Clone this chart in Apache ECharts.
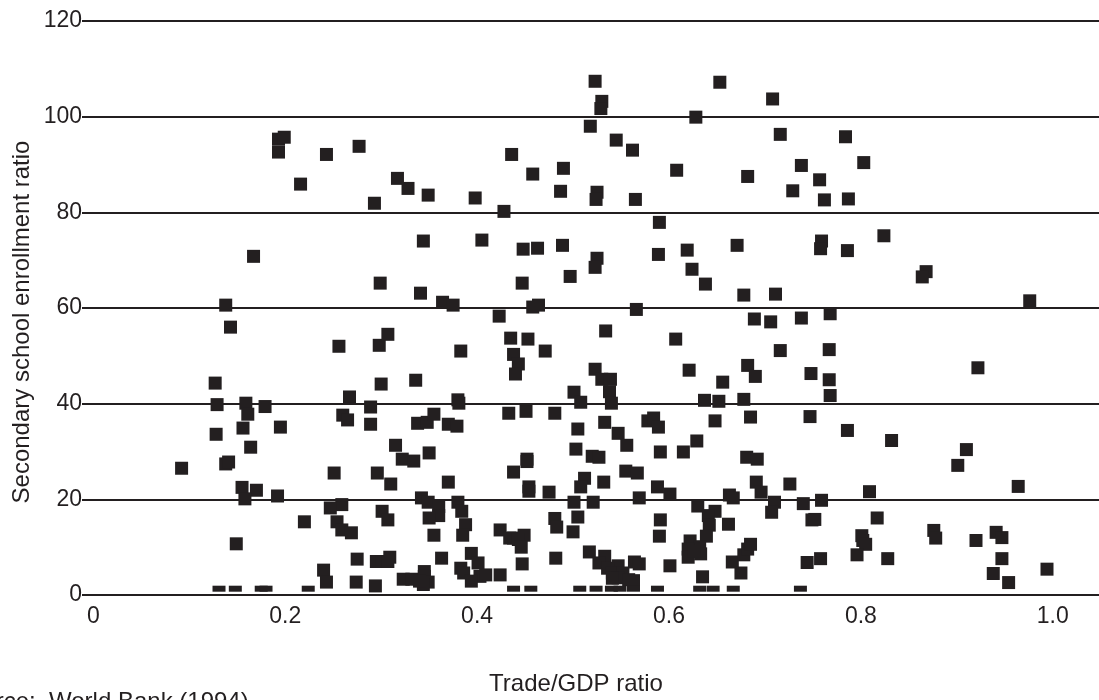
<!DOCTYPE html>
<html>
<head>
<meta charset="utf-8">
<style>html,body{margin:0;padding:0;background:#fff;overflow:hidden}#c{width:1099px;height:700px}</style>
<script src="https://cdn.jsdelivr.net/npm/echarts@6/dist/echarts.min.js"></script>
</head>
<body>
<div id="c"></div>
<script>
const xTicks = [0, 0.2, 0.4, 0.6, 0.8, 1.0];
const xTitle = 'Trade/GDP ratio';
const yTitle = 'Secondary school enrollment ratio';
const sourceNote = 'Source:  World Bank (1994)';

// [Trade/GDP ratio, enrollment ratio]
const lowTrade = [[.193,95.3],[.199,95.7],[.193,92.6],[.243,92.1],[.277,93.8],[.216,85.9],[.293,81.9],[.317,87.1],[.328,85.0],[.167,70.8],[.299,65.2],[.138,60.6],[.143,56.0],[.256,52.0],[.298,52.2],[.307,54.5],[.127,44.3],[.300,44.1],[.129,39.8],[.159,40.1],[.179,39.4],[.161,37.8],[.267,41.4],[.289,39.3],[.260,37.6],[.265,36.6],[.289,35.7],[.156,34.9],[.195,35.1],[.128,33.6],[.164,30.9],[.315,31.3],[.322,28.4],[.092,26.5],[.138,27.4],[.141,27.8],[.251,25.5],[.296,25.5],[.310,23.2],[.155,22.5],[.170,21.9],[.192,20.7],[.158,20.1],[.259,18.9],[.247,18.2],[.301,17.5],[.307,15.7],[.220,15.3],[.254,15.3],[.259,13.6],[.269,13.0],[.149,10.7],[.275,7.5],[.295,7.0],[.301,7.0],[.309,7.9],[.307,7.0],[.240,5.2],[.243,2.7],[.274,2.7],[.294,1.9],[.323,3.3],[.332,3.3],[.344,74.0],[.341,63.1],[.336,44.9],[.338,35.9],[.348,36.1],[.334,28.0],[.342,20.3],[.349,19.4],[.345,4.9],[.345,3.9],[.349,2.7],[.344,2.2],[.340,2.9],[.349,83.6]];
const midTrade = [[.398,83.0],[.428,80.2],[.405,74.2],[.364,61.2],[.375,60.6],[.423,58.3],[.383,51.0],[.380,40.8],[.381,40.1],[.433,38.0],[.355,37.8],[.370,35.7],[.379,35.3],[.350,29.7],[.370,23.6],[.360,18.5],[.360,16.6],[.350,16.1],[.380,19.4],[.384,17.5],[.388,14.7],[.385,12.5],[.355,12.5],[.424,13.6],[.434,11.9],[.363,7.7],[.394,8.7],[.401,6.7],[.383,5.6],[.386,4.6],[.403,3.9],[.409,4.2],[.394,2.9],[.424,4.2],[.523,107.4],[.530,103.2],[.529,101.7],[.518,98.0],[.545,95.1],[.562,93.0],[.436,92.1],[.458,88.0],[.490,89.2],[.487,84.4],[.525,84.2],[.524,82.7],[.565,82.7],[.448,72.3],[.463,72.5],[.489,73.1],[.589,71.2],[.525,70.4],[.523,68.5],[.497,66.6],[.447,65.2],[.458,60.2],[.464,60.6],[.566,59.7],[.534,55.2],[.435,53.7],[.453,53.5],[.471,51.0],[.438,50.3],[.443,48.3],[.440,46.2],[.523,47.2],[.530,45.1],[.539,45.1],[.538,42.5],[.501,42.4],[.508,40.3],[.540,40.1],[.451,38.4],[.481,38.0],[.533,36.1],[.505,34.7],[.578,36.4],[.584,37.0],[.589,35.1],[.547,33.8],[.556,31.3],[.503,30.5],[.520,29.0],[.527,28.8],[.452,28.4],[.452,27.9],[.438,25.7],[.512,24.4],[.508,22.6],[.532,23.6],[.555,25.9],[.567,25.5],[.588,22.6],[.454,22.6],[.454,21.7],[.475,21.5],[.501,19.4],[.521,19.4],[.569,20.3],[.505,16.3],[.481,16.0],[.483,14.2],[.591,15.7],[.500,13.2],[.590,12.3],[.438,11.9],[.449,12.5],[.443,11.6],[.446,10.0],[.517,9.0],[.533,8.1],[.527,6.7],[.547,6.1],[.536,5.6],[.564,6.9],[.569,6.5],[.482,7.7],[.447,6.5],[.541,4.6],[.552,4.6],[.547,3.6],[.558,3.2],[.563,3.0],[.541,3.5]];
const highTrade = [[.653,107.2],[.628,99.9],[.608,88.8],[.682,87.5],[.590,77.9],[.619,72.1],[.671,73.1],[.624,68.1],[.638,65.0],[.678,62.7],[.689,57.7],[.607,53.5],[.621,47.0],[.656,44.5],[.682,48.0],[.690,45.7],[.637,40.7],[.652,40.5],[.678,40.9],[.648,36.4],[.685,37.2],[.629,32.2],[.591,29.9],[.615,29.9],[.681,28.8],[.692,28.4],[.601,21.1],[.663,20.9],[.667,20.3],[.630,18.6],[.648,17.5],[.641,16.6],[.642,14.6],[.662,14.8],[.639,12.3],[.622,11.3],[.632,10.1],[.620,9.6],[.633,8.6],[.620,7.9],[.626,9.1],[.601,6.1],[.635,3.8],[.675,4.6],[.666,6.9],[.678,8.4],[.682,9.6],[.685,10.6],[.691,23.6],[.726,23.2],[.696,21.5],[.710,19.4],[.707,17.3],[.708,103.7],[.716,96.3],[.784,95.8],[.803,90.4],[.738,89.8],[.757,86.8],[.729,84.5],[.762,82.6],[.787,82.8],[.824,75.1],[.759,74.0],[.758,72.4],[.786,72.0],[.868,67.6],[.864,66.5],[.976,61.5],[.711,62.9],[.706,57.1],[.738,57.9],[.768,58.8],[.716,51.1],[.767,51.3],[.748,46.3],[.767,45.0],[.922,47.5],[.768,41.7],[.747,37.3],[.786,34.4],[.832,32.3],[.910,30.4],[.901,27.1],[.964,22.7],[.809,21.6],[.740,19.1],[.759,19.8],[.817,16.1],[.749,15.7],[.752,15.8],[.876,13.5],[.878,11.9],[.920,11.4],[.941,13.1],[.947,12.0],[.801,12.4],[.802,11.4],[.805,10.6],[.796,8.4],[.828,7.6],[.758,7.6],[.744,6.8],[.947,7.6],[.994,5.4],[.938,4.5],[.954,2.6]];
// Countries at a zero enrollment ratio: Trade/GDP ratio only
const zeroEnrollmentTrade = [.131,.148,.175,.180,.224,.438,.456,.507,.524,.540,.549,.563,.588,.632,.646,.667,.737];

const ink = '#231f20';
const font = '"Liberation Sans", Arial, sans-serif';
const chart = echarts.init(document.getElementById('c'), null, {renderer: 'canvas'});
chart.setOption({
  animation: false,
  backgroundColor: '#fff',
  grid: {left: 82, right: 0, top: 21, bottom: 105, containLabel: false},
  xAxis: {
    type: 'value', min: -0.0118, max: 1.0482,
    axisLine: {show: false}, axisTick: {show: false}, splitLine: {show: false},
    axisLabel: {
      customValues: xTicks, margin: 10, color: ink, fontFamily: font, fontSize: 23,
      formatter: v => v === 0 ? '0' : v.toFixed(1), showMinLabel: true, showMaxLabel: true
    }
  },
  yAxis: {
    type: 'value', min: 0, max: 120, interval: 20,
    axisLine: {show: false}, axisTick: {show: false},
    axisLabel: {margin: 0, color: ink, fontFamily: font, fontSize: 23},
    splitLine: {show: true, lineStyle: {color: ink, width: 2}}
  },
  series: [
    {
      name: 'Countries', type: 'scatter', symbol: 'rect', symbolSize: 13,
      itemStyle: {color: ink, opacity: 1}, clip: false,
      data: lowTrade.concat(midTrade, highTrade)
    },
    {
      name: 'Zero enrollment', type: 'scatter', symbol: 'rect', symbolSize: [13, 6],
      symbolOffset: [0, -6.3], itemStyle: {color: ink, opacity: 1}, clip: false,
      data: zeroEnrollmentTrade.map(x => [x, 0])
    }
  ],
  graphic: [
    {type: 'text', rotation: Math.PI / 2, x: 22, y: 322,
     style: {text: yTitle, fill: ink, font: '24px ' + font, align: 'center', verticalAlign: 'middle'}},
    {type: 'text', x: 576, y: 684,
     style: {text: xTitle, fill: ink, font: '24px ' + font, align: 'center', verticalAlign: 'middle'}},
    {type: 'text', x: -47, y: 702,
     style: {text: sourceNote, fill: ink, font: '24px ' + font, align: 'left', verticalAlign: 'middle'}}
  ]
});
</script>
</body>
</html>
